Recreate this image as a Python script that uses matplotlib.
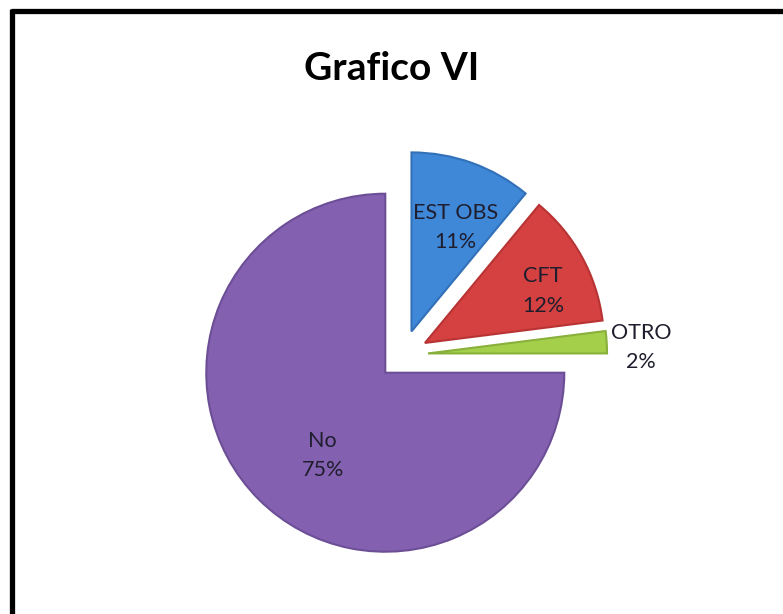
import numpy as np
import matplotlib.pyplot as plt

categories = ["EST OBS", "CFT", "OTRO", "No"]
values = [11, 12, 2, 75]
colors = ["#3f88d8", "#d54040", "#a3cf4a", "#8461b0"]
edge_colors = ["#3270b8", "#b83434", "#88b03a", "#6c4e96"]
label_dist = [0.63, 0.72, 1.19, 0.58]
label_turn = [-3, -5, -2, 8]  # degrees, nudges label off the slice bisector

plt.rcParams['font.family'] = ['Lato', 'DejaVu Sans']

fig = plt.figure(figsize=(7.83, 6.14), dpi=100)
ax = fig.add_axes([0, 0, 1, 1])

cx, cy, r = 403, 259, 179
# pie's explode is an offset in data units
explode = [0.14 * r] * len(values)

wedges, _ = ax.pie(values, colors=colors, startangle=90, counterclock=False,
                   explode=explode, center=(cx, cy), radius=r, frame=True,
                   wedgeprops=dict(linewidth=1.5))
for w, ec in zip(wedges, edge_colors):
    w.set_edgecolor(ec)
ax.set_xlim(0, 783)
ax.set_ylim(0, 614)
ax.set_aspect('equal')
ax.axis('off')

for w, cat, v, d, t in zip(wedges, categories, values, label_dist, label_turn):
    ang = np.deg2rad((w.theta1 + w.theta2) / 2 + t)
    x = w.center[0] + d * r * np.cos(ang)
    y = w.center[1] + d * r * np.sin(ang)
    ax.text(x, y, f"{cat}\n{v}%", ha='center', va='center', fontsize=15.5,
            color='#1e1e2e', linespacing=1.6)

fig.text(0.5, 0.889, "Grafico VI", ha='center', va='center', fontsize=28,
         fontweight='bold', color='black')

# black frame (only top and left edges visible in the crop)
ax.plot([11, 783], [603.5, 603.5], color='black', linewidth=3.8, solid_capstyle='butt')
ax.plot([11.5, 11.5], [0, 605], color='black', linewidth=3.8, solid_capstyle='butt')

fig.savefig("out.png", dpi=100, facecolor='white')
